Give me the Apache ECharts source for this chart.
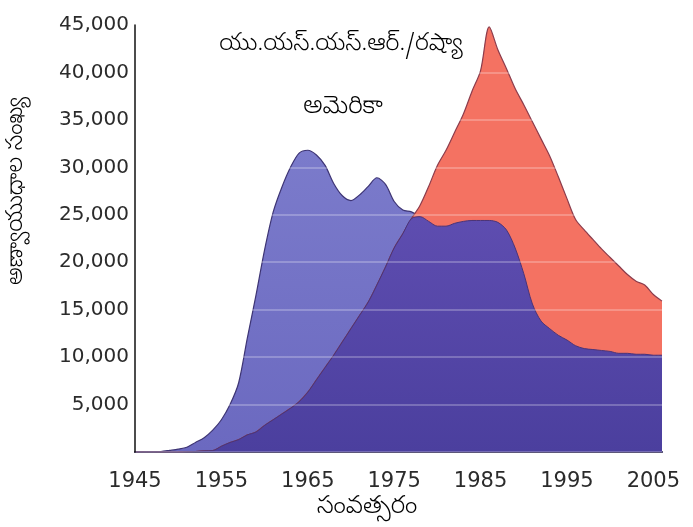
<!DOCTYPE html>
<html>
<head>
<meta charset="utf-8">
<script src="https://cdn.jsdelivr.net/npm/echarts@6/dist/echarts.min.js"></script>
<style>
  html, body { margin: 0; padding: 0; background: #fff; }
  #chart { width: 693px; height: 527px; }
</style>
</head>
<body>
<div id="chart"></div>
<script>
// Nuclear warhead stockpiles, one value per year
const years = [];
for (let y = 1945; y <= 2006; y++) years.push(String(y));

const usStockpile = [
  0, 10, 20, 50, 170, 300, 500, 1000, 1500, 2300,
  3400, 5000, 7300, 12000, 16500, 21300, 25300, 27900, 30000, 31500,
  31800, 31300, 30200, 28300, 27000, 26500, 27100, 28000, 28900, 28200,
  26400, 25500, 25300, 24800, 24300, 23800, 23800, 24100, 24300, 24400,
  24400, 24400, 24200, 23400, 21500, 18800, 15600, 13800, 13000, 12300,
  11800, 11200, 10900, 10800, 10700, 10600, 10400, 10400, 10300, 10300,
  10200, 10200
];

const ussrStockpile = [
  0, 0, 0, 0, 1, 5, 25, 50, 120, 150,
  600, 1000, 1300, 1800, 2100, 2800, 3400, 4000, 4600, 5300,
  6300, 7600, 8900, 10200, 11600, 13000, 14400, 15800, 17600, 19500,
  21500, 23000, 24600, 26000, 28000, 30200, 31800, 33700, 35600, 38000,
  40200, 44800, 42400, 40400, 38300, 36600, 34800, 33000, 31200, 29000,
  26700, 24500, 23400, 22400, 21400, 20500, 19600, 18700, 18000, 17600,
  16600, 15900
];

const yTicks = [5000, 10000, 15000, 20000, 25000, 30000, 35000, 40000, 45000];

const labelUSSR = 'యు.యస్.యస్.ఆర్./రష్యా';
const labelUS = 'అమెరికా';
const yTitle = 'అణ్వాయుధాల సంఖ్య';
const xTitle = 'సంవత్సరం';

// Portion held by both countries (drawn darker where the areas overlap)
const shared = usStockpile.map((v, i) => Math.min(v, ussrStockpile[i]));

const teluguFont = "'Noto Sans Telugu', 'Noto Sans', sans-serif";
const numFont = "'DejaVu Sans', Verdana, sans-serif";

function centredText(text, x, y, size, rotation) {
  return {
    type: 'text',
    x: x,
    y: y,
    rotation: rotation || 0,
    style: {
      text: text,
      fontFamily: teluguFont,
      fontSize: size,
      fontWeight: 300,
      fill: '#000',
      align: 'center',
      verticalAlign: 'middle'
    }
  };
}

const chart = echarts.init(document.getElementById('chart'), null, { renderer: 'canvas' });

chart.setOption({
  animation: false,
  backgroundColor: '#ffffff',
  grid: { left: 135, right: 31, top: 25, bottom: 75 },
  xAxis: {
    type: 'category',
    data: years,
    boundaryGap: false,
    axisLine: { show: true, lineStyle: { color: '#2a2350', width: 2 } },
    axisTick: { show: false },
    axisLabel: {
      interval: 9,
      margin: 19,
      fontFamily: numFont,
      fontSize: 21,
      color: '#2b2b2b'
    },
    splitLine: { show: false }
  },
  yAxis: {
    type: 'value',
    min: 0,
    max: 45000,
    interval: 5000,
    z: 5,
    axisLine: { show: true, lineStyle: { color: '#111', width: 1.5 } },
    axisTick: { show: false },
    axisLabel: {
      margin: 6,
      fontFamily: numFont,
      fontSize: 20,
      color: '#2b2b2b',
      formatter: v => (yTicks.indexOf(v) >= 0 ? v.toLocaleString('en-US') : '')
    },
    splitLine: { show: true, lineStyle: { color: 'rgba(255,255,255,0.32)', width: 1.5 } }
  },
  series: [
    {
      name: labelUS,
      type: 'line',
      data: usStockpile,
      smooth: 0.3,
      symbol: 'none',
      z: 1,
      lineStyle: { color: '#3d3474', width: 1.2 },
      areaStyle: {
        opacity: 1,
        color: new echarts.graphic.LinearGradient(0, 0, 0, 1, [
          { offset: 0, color: '#7b7bcb' },
          { offset: 1, color: '#6b69c0' }
        ])
      }
    },
    {
      name: labelUSSR,
      type: 'line',
      data: ussrStockpile,
      smooth: 0.3,
      symbol: 'none',
      z: 2,
      lineStyle: { color: '#8c3c4c', width: 1.2 },
      areaStyle: { opacity: 1, color: '#f47262' }
    },
    {
      name: 'shared',
      type: 'line',
      data: shared,
      smooth: 0.3,
      symbol: 'none',
      z: 3,
      lineStyle: { color: '#4a3478', width: 1 },
      areaStyle: {
        opacity: 1,
        color: new echarts.graphic.LinearGradient(0, 0, 0, 1, [
          { offset: 0, color: '#5e4db0' },
          { offset: 1, color: '#4b3f9e' }
        ])
      }
    }
  ],
  graphic: [
    centredText(labelUSSR, 341, 47, 24),
    centredText(labelUS, 343, 109, 25),
    centredText(yTitle, 19, 191, 23, Math.PI / 2),
    centredText(xTitle, 367, 509, 25)
  ]
});
</script>
</body>
</html>
